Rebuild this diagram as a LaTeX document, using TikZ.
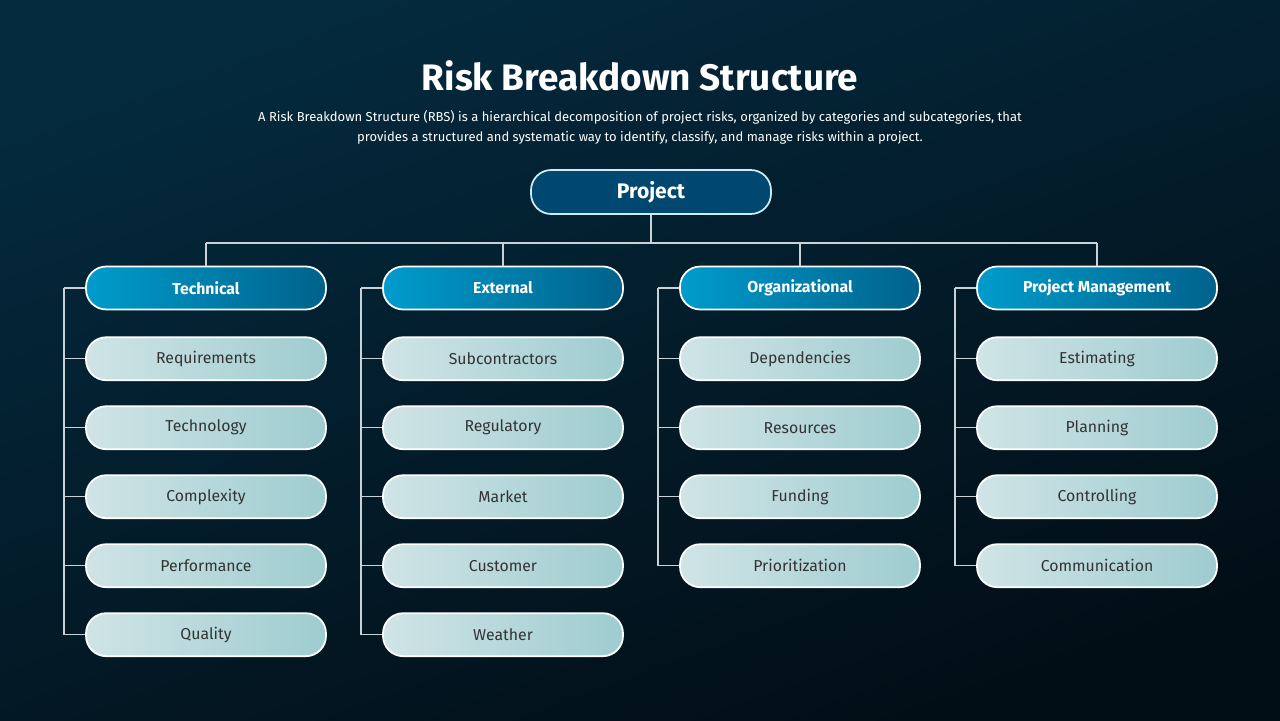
\documentclass[tikz,border=0pt]{standalone}
\usepackage{fontspec}
\setmainfont{Fira Sans}
\usetikzlibrary{positioning}
\definecolor{bgtop}{RGB}{4,42,62}
\definecolor{bgbot}{RGB}{2,14,22}
\definecolor{catl}{RGB}{0,156,204}
\definecolor{catr}{RGB}{0,98,140}
\definecolor{iteml}{RGB}{208,228,230}
\definecolor{itemr}{RGB}{158,204,208}
\definecolor{projfill}{RGB}{0,72,112}
\definecolor{linec}{RGB}{200,210,215}
\tikzstyle{pill}=[rounded corners=11.5pt,minimum width=4.8cm,minimum height=0.86cm,draw=white,line width=1pt,inner sep=0pt]
\tikzstyle{root}=[pill,fill=projfill,draw=white!80!catl,minimum height=0.88cm,text=white,font=\fontsize{12}{14}\selectfont\bfseries]
\tikzstyle{category}=[pill,left color=catl,right color=catr,text=white,font=\fontsize{9}{11}\selectfont\bfseries]
\tikzstyle{item}=[pill,left color=iteml,right color=itemr,text=black!80,font=\fontsize{9}{11}\selectfont]
\tikzstyle{link}=[draw=linec,line width=0.6pt]
\begin{document}
\begin{tikzpicture}[x=0.02cm,y=-0.02cm]
    \shade[top color=bgtop,bottom color=bgbot,shading angle=20] (0,0) rectangle (1280,720);
    \useasboundingbox (0,0) rectangle (1280,720);
    \node[text=white,font=\fontsize{21}{24}\selectfont\bfseries] (title) at (640,76) {Risk Breakdown Structure};
    \node[text=white,font=\fontsize{7.4}{11.3}\selectfont,align=center] (subtitle) at (640,127) {A Risk Breakdown Structure (RBS) is a hierarchical decomposition of project risks, organized by categories and subcategories, that\\provides a structured and systematic way to identify, classify, and manage risks within a project.};
    \node[root] (project) at (651,192) {Project};
    \coordinate (bus) at (651,243);
    \draw[link] (project) -- (bus);
    \foreach \x/\name/\label in {206/tech/Technical, 503/ext/External, 800/org/Organizational, 1097/pm/Project Management}{
        \node[category] (\name) at (\x,288) {\label};
        \coordinate (\name-top) at (\x,243);
        \coordinate (\name-spine) at (\x-142,288);
        \draw[link] (\name-top) -- (\name);
        \draw[link] (\name-spine) -- (\name);
    }
    \draw[link] (tech-top) -- (pm-top);
    \foreach \cat/\items in {tech/{Requirements,Technology,Complexity,Performance,Quality}, ext/{Subcontractors,Regulatory,Market,Customer,Weather}, org/{Dependencies,Resources,Funding,Prioritization}, pm/{Estimating,Planning,Controlling,Communication}}{
        \foreach \label [count=\i] in \items {
            \node[item,below=0.52cm of \cat,yshift=-(\i-1)*1.38cm] (\cat-\i) {\label};
            \draw[link] (\cat-spine) |- (\cat-\i);
        }
    }
\end{tikzpicture}
\end{document}
